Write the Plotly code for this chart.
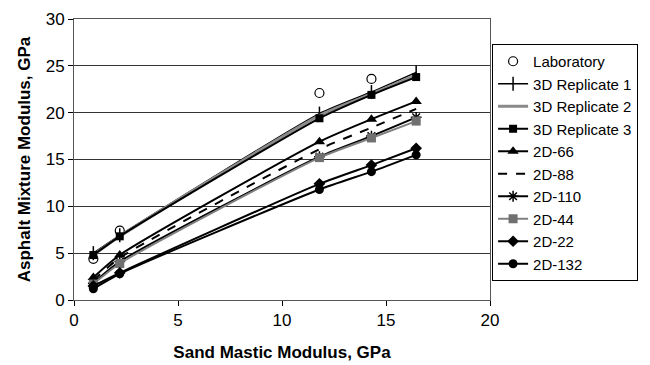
import plotly.graph_objects as go

x_vals = [0.93, 2.2, 11.8, 14.3, 16.45]

lab = [4.4, 7.4, 22.1, 23.6]
lab_x = [0.93, 2.2, 11.8, 14.3]
rep1 = [5.0, 6.9, 19.9, 22.2, 24.3]
rep2 = [4.8, 6.8, 19.7, 22.0, 24.0]
rep3 = [4.8, 6.8, 19.4, 21.9, 23.8]
d66 = [2.4, 4.8, 16.9, 19.3, 21.2]
d88 = [2.1, 4.5, 16.1, 18.4, 20.4]
d110 = [1.8, 4.1, 15.3, 17.5, 19.5]
d44 = [1.7, 3.9, 15.2, 17.3, 19.1]
d22 = [1.5, 2.9, 12.4, 14.4, 16.2]
d132 = [1.2, 2.8, 11.8, 13.7, 15.5]

x_ticks = [0, 5, 10, 15, 20]
y_ticks = [0, 5, 10, 15, 20, 25, 30]

fig = go.Figure()

fig.add_trace(go.Scatter(x=lab_x, y=lab, mode="markers", name="Laboratory",
                         marker=dict(symbol="circle-open", size=9, color="black", line=dict(width=1.2))))

def add_line(y, name, color="black", width=2, dash="solid", symbol=None, size=8, mcolor=None, mline=0):
    mode = "lines+markers" if symbol else "lines"
    kw = dict(x=x_vals, y=y, mode=mode, name=name,
              line=dict(color=color, width=width, dash=dash, shape="spline", smoothing=0.6))
    if symbol:
        kw["marker"] = dict(symbol=symbol, size=size, color=mcolor or color,
                            line=dict(width=mline, color=mcolor or color))
    fig.add_trace(go.Scatter(**kw))

add_line(rep1, "3D Replicate 1", color="black", width=1.5, symbol="line-ns", size=10, mline=1.5)
add_line(rep2, "3D Replicate 2", color="#8a8a8a", width=3)
add_line(rep3, "3D Replicate 3", color="black", width=2, symbol="square", size=8)
add_line(d66, "2D-66", color="black", width=2, symbol="triangle-up", size=10)
add_line(d88, "2D-88", color="black", width=2, dash="dash")
add_line(d110, "2D-110", color="black", width=2, symbol="asterisk", size=9, mline=1.5)
add_line(d44, "2D-44", color="#808080", width=2, symbol="square", size=9, mcolor="#707070")
add_line(d22, "2D-22", color="black", width=2, symbol="diamond", size=9)
add_line(d132, "2D-132", color="black", width=2, symbol="circle", size=9)

font_family = "Liberation Sans, Arial, sans-serif"

fig.update_layout(
    width=650, height=365,
    margin=dict(l=74, r=160, t=19, b=65, autoexpand=False),
    plot_bgcolor="white", paper_bgcolor="white",
    font=dict(family=font_family, size=16, color="black"),
    showlegend=True,
    legend=dict(x=1.005, xanchor="left", y=0.911, yanchor="top",
                bordercolor="black", borderwidth=1, bgcolor="white",
                font=dict(size=15, family=font_family), tracegroupgap=0,
                itemwidth=30),
    xaxis=dict(range=[0, 20], tickvals=x_ticks, ticks="outside", ticklen=5, tickcolor="black",
               showgrid=False, zeroline=False, showline=True, linecolor="#555", mirror=True,
               tickfont=dict(size=17),
               title=dict(text="<b>Sand Mastic Modulus, GPa</b>", font=dict(size=17), standoff=16)),
    yaxis=dict(range=[0, 30], tickvals=y_ticks, ticks="outside", ticklen=5, tickcolor="black",
               showgrid=True, gridcolor="#333", gridwidth=1, zeroline=False,
               showline=True, linecolor="#555", mirror=True,
               tickfont=dict(size=17),
               title=dict(text="<b>Asphalt Mixture Modulus, GPa</b>", font=dict(size=17), standoff=10)),
)

fig.write_html("out.html")
